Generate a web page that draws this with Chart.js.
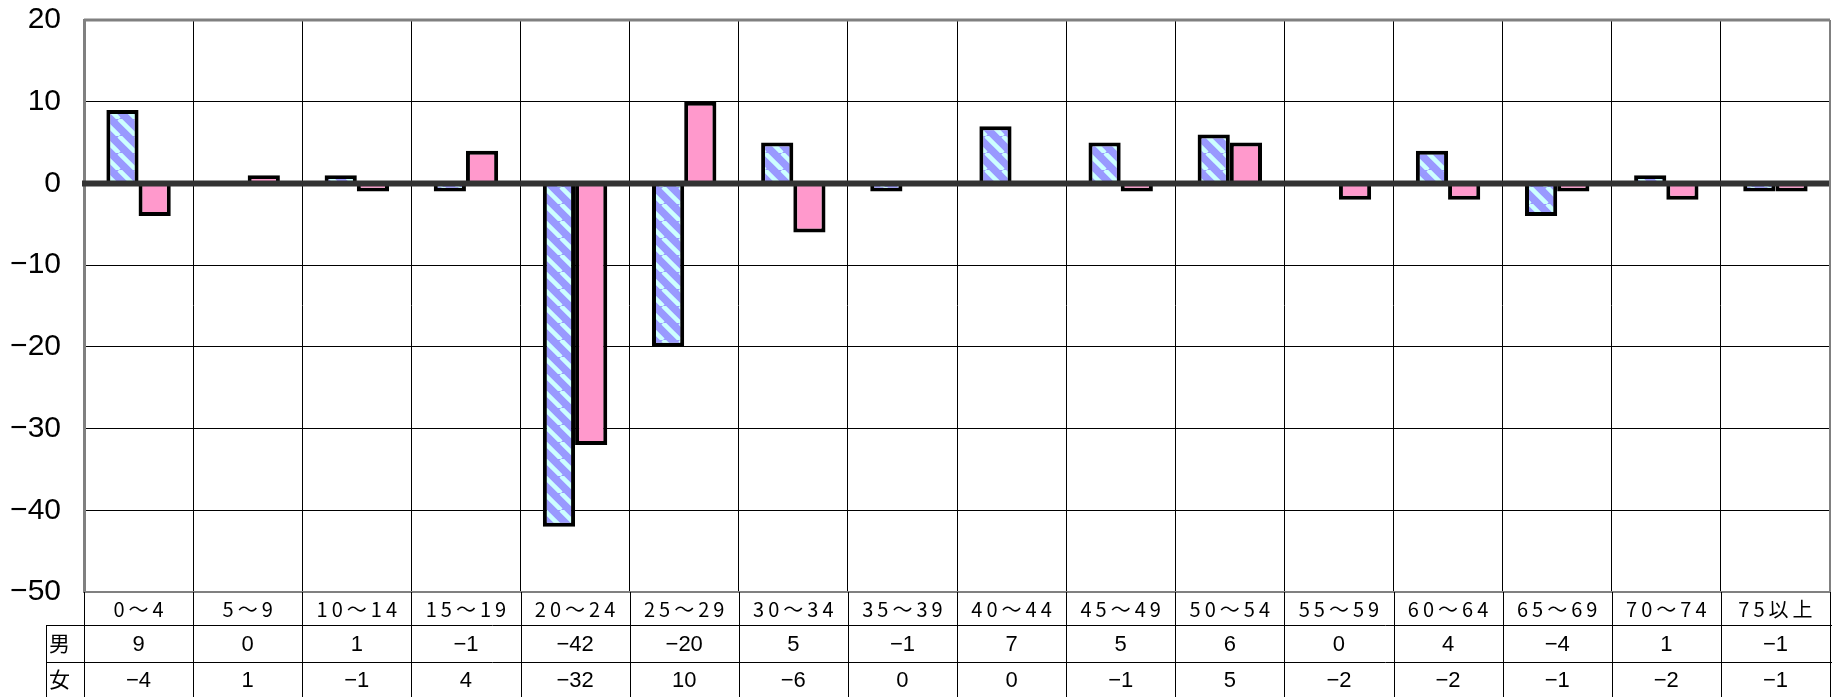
<!DOCTYPE html>
<html lang="ja">
<head>
  <meta charset="UTF-8" />
  <title>年齢別 人口増減</title>
  <script src="https://cdn.jsdelivr.net/npm/chart.js"></script>
  <style>
    html, body { margin: 0; padding: 0; background: #fff; }
    canvas { display: block; }
  </style>
</head>
<body>
  <canvas id="chart" width="1832" height="697"></canvas>

  <script>
    // data
    const categories = ['0～4', '5～9', '10～14', '15～19', '20～24', '25～29', '30～34', '35～39',
                        '40～44', '45～49', '50～54', '55～59', '60～64', '65～69', '70～74', '75以上'];
    const maleValues   = [9, 0, 1, -1, -42, -20, 5, -1, 7, 5, 6, 0, 4, -4, 1, -1];
    const femaleValues = [-4, 1, -1, 4, -32, 10, -6, 0, 0, -1, 5, -2, -2, -1, -2, -1];
    const rowLabels = ['男', '女'];
    const yMin = -50, yMax = 20, yStep = 10;

    const fmt = v => String(v).replace('-', '−');

    // blue bar with light diagonal stripes
    function stripePattern() {
      const n = 17;
      const c = document.createElement('canvas');
      c.width = n; c.height = n;
      const g = c.getContext('2d');
      g.fillStyle = '#9999FF';
      g.fillRect(0, 0, n, n);
      g.strokeStyle = '#CCFFFF';
      g.lineWidth = 4.5;
      [-n, 0, n].forEach(x0 => {
        g.beginPath();
        g.moveTo(x0, 0);
        g.lineTo(x0 + n, n);
        g.stroke();
      });
      return g.createPattern(c, 'repeat');
    }

    const ctx = document.getElementById('chart').getContext('2d');

    const tablePlugin = {
      id: 'table',
      afterDatasetsDraw(chart) {
        const { ctx, chartArea: a, scales: { y } } = chart;
        const y0 = y.getPixelForValue(0);
        ctx.save();
        // zero line
        ctx.strokeStyle = '#333333';
        ctx.lineWidth = 6;
        ctx.beginPath();
        ctx.moveTo(a.left - 2, y0);
        ctx.lineTo(a.right, y0);
        ctx.stroke();
        // top and right frame
        ctx.strokeStyle = '#808080';
        ctx.lineWidth = 3;
        ctx.beginPath();
        ctx.moveTo(a.left, a.top);
        ctx.lineTo(a.right, a.top);
        ctx.stroke();
        ctx.lineWidth = 2;
        ctx.beginPath();
        ctx.moveTo(a.right, a.top);
        ctx.lineTo(a.right, a.bottom);
        ctx.stroke();
        ctx.restore();
      },
      afterDraw(chart) {
        const { ctx, chartArea: a, scales: { x } } = chart;
        const h = chart.height;
        const step = (a.right - a.left) / categories.length;
        const row1 = a.bottom + 33, row2 = a.bottom + 70;
        const colLeft = 46;
        ctx.save();
        ctx.strokeStyle = '#000';
        ctx.lineWidth = 1;
        ctx.beginPath();
        for (let i = 0; i <= categories.length; i++) {
          const xx = Math.round(a.left + i * step) + 0.5;
          ctx.moveTo(xx, a.bottom);
          ctx.lineTo(xx, h);
        }
        ctx.moveTo(colLeft + 0.5, row1);
        ctx.lineTo(colLeft + 0.5, h);
        ctx.moveTo(colLeft, row1 + 0.5);
        ctx.lineTo(a.right + 2, row1 + 0.5);
        ctx.moveTo(colLeft, row2 + 0.5);
        ctx.lineTo(a.right + 2, row2 + 0.5);
        ctx.stroke();

        ctx.fillStyle = '#000';
        ctx.textAlign = 'center';
        ctx.textBaseline = 'middle';
        ctx.font = '20px "Noto Sans CJK JP"';
        ctx.letterSpacing = '4px';
        categories.forEach((c, i) => {
          ctx.fillText(c, x.getPixelForValue(i) + 2, a.bottom + 17);
        });
        ctx.letterSpacing = '0px';
        ctx.font = '22px "Liberation Sans Narrow", "Liberation Sans"';
        [maleValues, femaleValues].forEach((vals, r) => {
          const cy = r === 0 ? (row1 + row2) / 2 + 1 : (row2 + h) / 2 + 1;
          vals.forEach((v, i) => ctx.fillText(fmt(v), x.getPixelForValue(i), cy));
        });
        ctx.textAlign = 'left';
        ctx.font = '21px "Noto Sans CJK JP"';
        ctx.fillText(rowLabels[0], 49, (row1 + row2) / 2);
        ctx.fillText(rowLabels[1], 49, (row2 + h) / 2);
        ctx.restore();
      }
    };

    new Chart(ctx, {
      type: 'bar',
      data: {
        labels: categories,
        datasets: [
          {
            label: '男',
            data: maleValues,
            backgroundColor: stripePattern(),
            borderColor: '#000',
            borderWidth: 4
          },
          {
            label: '女',
            data: femaleValues,
            backgroundColor: '#FF99CC',
            borderColor: '#000',
            borderWidth: 4
          }
        ]
      },
      options: {
        responsive: false,
        devicePixelRatio: 1,
        animation: false,
        layout: { padding: { top: 20, right: 2, left: 0, bottom: 0 } },
        datasets: { bar: { categoryPercentage: 0.59, barPercentage: 1.0 } },
        plugins: { legend: { display: false }, tooltip: { enabled: false } },
        scales: {
          x: {
            offset: true,
            grid: { offset: true, drawTicks: false, color: '#000', lineWidth: 1 },
            border: { display: true, color: '#808080', width: 2 },
            ticks: { display: false },
            afterFit: s => { s.height = 105; s.paddingLeft = 0; s.paddingRight = 0; }
          },
          y: {
            min: yMin,
            max: yMax,
            ticks: {
              stepSize: yStep,
              padding: 23,
              color: '#000',
              font: { family: '"Liberation Sans", Arial', size: 30 },
              callback: v => fmt(v)
            },
            grid: { drawTicks: false, color: '#000', lineWidth: 1 },
            border: { display: true, color: '#808080', width: 3 },
            afterFit: s => { s.width = 84; s.paddingTop = 0; s.paddingBottom = 0; }
          }
        }
      },
      plugins: [tablePlugin]
    });
  </script>
</body>
</html>
